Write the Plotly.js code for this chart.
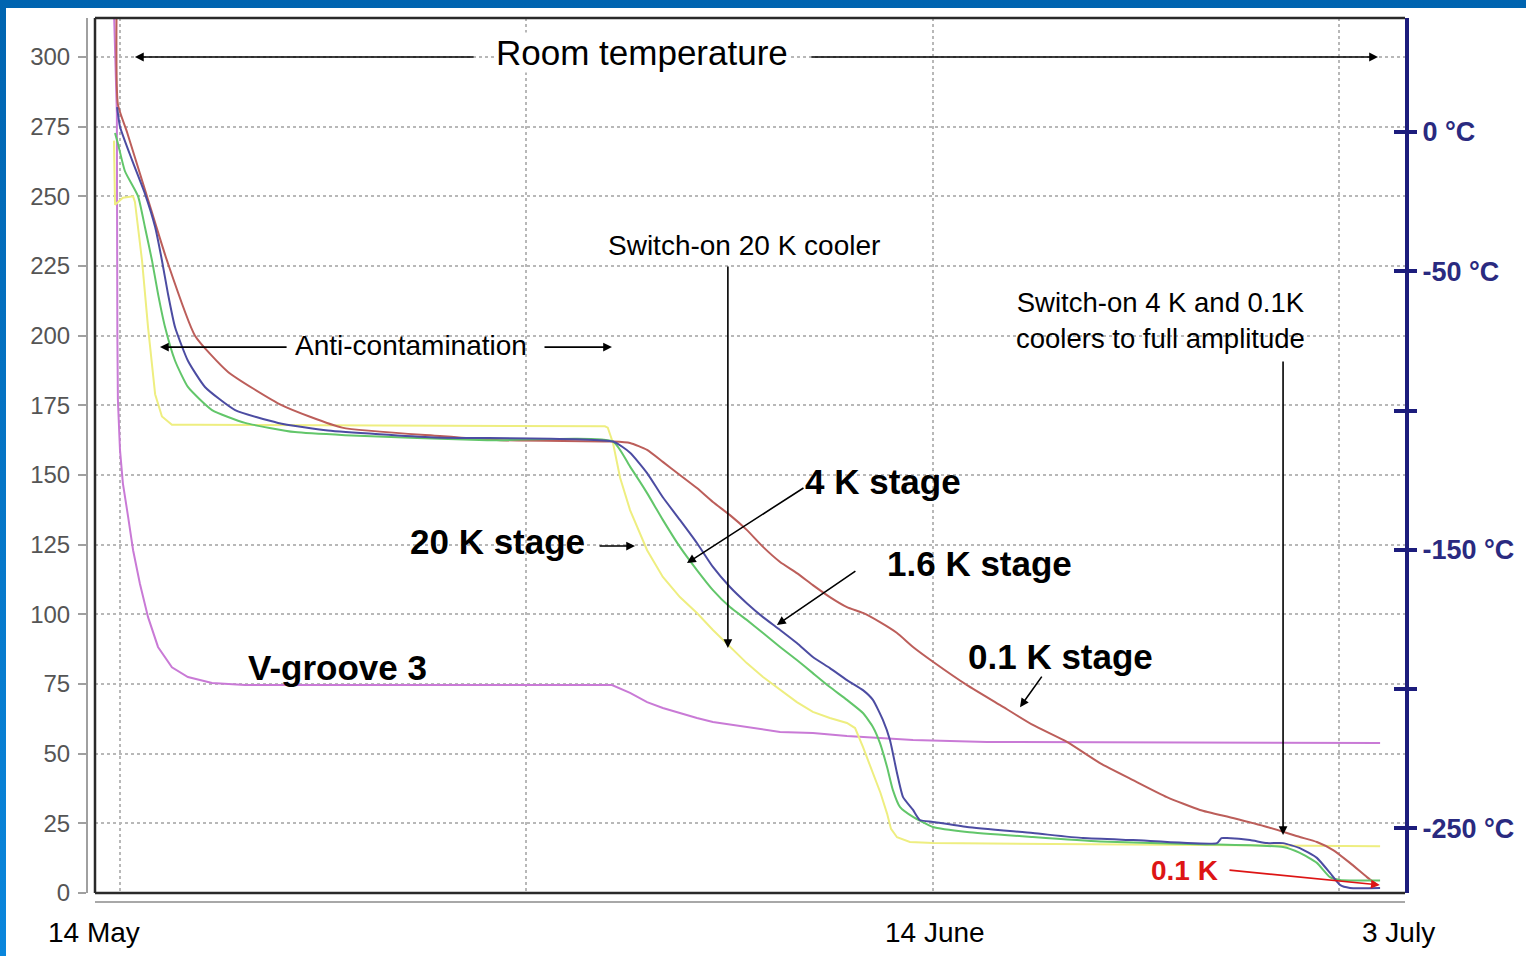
<!DOCTYPE html>
<html>
<head>
<meta charset="utf-8">
<script src="https://cdn.plot.ly/plotly-3.0.1.min.js"></script>
<style>
  html, body { margin: 0; padding: 0; width: 1526px; height: 956px; overflow: hidden;
    background: linear-gradient(#0064b0, #0a86dc); }
  #chart { position: absolute; left: 6px; top: 8px; width: 1520px; height: 948px; background: #fff; }
</style>
</head>
<body>
<div id="chart"></div>
<script>
// x values: days since 14 May; y values: temperature in K
const redDays   = [-0.12, -0.08, 0.27, 1.03, 1.79, 2.86, 4.12, 6.18, 8.47, 12.2, 14.5, 18.8, 19.45, 20.1, 20.7, 21.35, 22.0, 22.61, 23.26, 23.9, 24.52, 25.17, 25.81, 26.42, 27.07, 27.72, 28.33, 28.98, 29.63, 30.24, 31.0, 32.3, 33.55, 34.81, 36.11, 37.37, 38.63, 39.92, 41.18, 42.44, 43.74, 44.99, 45.64, 46.26, 46.9, 47.55, 47.93];
const redTemp   = [330, 283, 273, 250, 227, 200, 187, 175, 167, 164, 162.5, 162, 161.5, 159, 154.7, 150, 145.3, 140.3, 135.6, 130.3, 124.2, 118.8, 114.8, 110.5, 106.2, 102.6, 100.5, 97.2, 93.3, 88.3, 83, 74.6, 67.5, 60.3, 54.2, 46.6, 40.5, 34.4, 29.8, 26.9, 23.7, 20.1, 18.3, 15.4, 10.8, 5.7, 2.9];

const blueDays  = [-0.11, 0, 0.46, 0.95, 1.34, 1.6, 1.83, 2.1, 2.59, 3.24, 4.39, 6.03, 7.93, 12, 18.8, 19.45, 20.1, 20.7, 21.35, 22.0, 22.61, 23.26, 23.9, 24.52, 25.17, 25.81, 26.42, 27.07, 27.72, 28.33, 28.71, 29.09, 29.36, 29.63, 29.86, 30.24, 30.5, 31.0, 32.3, 34.81, 36.72, 38.63, 41.83, 42.0, 42.21, 43.09, 43.74, 44.35, 44.99, 45.64, 46.14, 46.52, 46.9, 48.05];
const blueTemp  = [282, 275, 263, 251, 239, 227, 215, 203, 191, 181.6, 173.3, 168.7, 166, 163.5, 162, 158, 150.7, 142, 133.9, 125.6, 117, 109.8, 104, 99, 94.4, 89.7, 84.7, 80.7, 76.4, 72.8, 69.3, 62.1, 54.9, 43, 34.4, 29.8, 26.2, 25.5, 23.7, 21.5, 19.7, 19, 17.9, 19.7, 19.7, 19, 17.9, 17.9, 16.1, 12.6, 7.2, 2.9, 1.8, 1.8];

const greenDays = [-0.19, -0.08, 0.19, 0.69, 0.95, 1.22, 1.45, 1.72, 2.1, 2.59, 3.51, 4.77, 6.67, 8.58, 14, 18.8, 19.45, 20.1, 20.7, 21.35, 22.0, 22.61, 23.26, 23.9, 24.52, 25.17, 25.81, 26.42, 27.07, 27.72, 28.33, 28.71, 28.98, 29.25, 29.47, 29.74, 30.24, 31.0, 32.3, 34.81, 37.37, 41.18, 44.35, 44.99, 45.64, 46.14, 46.52, 48.05];
const greenTemp = [272.7, 269, 259, 250, 239, 227, 215, 203, 191, 181.6, 173.3, 168.7, 165.4, 164.3, 162.5, 162, 153, 143.5, 133.9, 124.2, 115.9, 108.7, 102.6, 98, 93.3, 88.3, 83.6, 78.9, 73.9, 69.3, 64.6, 59.6, 53.8, 45.2, 37, 30.9, 27.3, 23.7, 21.9, 20.1, 18.5, 17.5, 16.5, 14.4, 10.8, 5.7, 4.7, 4.5];

const yellowDays = [-0.23, -0.19, 0.11, 0.5, 0.57, 0.84, 1.07, 1.34, 1.6, 1.98, 2.86, 18.49, 18.6, 18.8, 19.07, 19.45, 20.1, 20.7, 21.35, 22.0, 22.61, 23.26, 23.9, 24.52, 25.17, 25.81, 26.42, 27.07, 27.72, 28.03, 28.33, 28.71, 29.0, 29.25, 29.4, 29.63, 30.12, 31.0, 40, 48.05];
const yellowTemp = [270, 247, 249.5, 250, 248, 227, 203, 179, 171, 168, 168, 167.5, 167, 161.5, 149, 137.4, 123, 113.4, 106.2, 100.5, 94.4, 88.3, 82.5, 77.5, 72.8, 68.5, 65, 62.8, 61, 59.2, 52.4, 43, 35.9, 28.5, 23, 20, 18.3, 17.9, 17.3, 16.8];

const vgrooveDays = [-0.27, -0.12, -0.1, -0.08, 0, 0.11, 0.31, 0.5, 0.76, 1.07, 1.45, 1.98, 2.59, 3.51, 4.77, 18.76, 19.45, 20.1, 20.7, 21.35, 22.0, 22.61, 23.9, 25.17, 26.42, 27.72, 28.98, 30.24, 33.06, 48.05];
const vgrooveTemp = [330, 280, 200, 177, 159, 147, 135, 123, 111, 99, 88.3, 81, 77.5, 75.4, 74.6, 74.6, 71.8, 68.5, 66.4, 64.6, 62.8, 61.4, 59.6, 57.8, 57.4, 56.3, 55.6, 54.9, 54.2, 53.8];

const leftTicks = [0, 25, 50, 75, 100, 125, 150, 175, 200, 225, 250, 275, 300];
const xGridDays = [0, 15.5, 31, 46.5];
const celsiusTicks = [0, -50, -100, -150, -200, -250];
const celsiusLabels = ['0 °C', '-50 °C', '', '-150 °C', '', '-250 °C'];
const dateLabels = ['14 May', '14 June', '3 July'];

const FONT = 'Liberation Sans, Arial, sans-serif';
const NAVY = '#1c1c7c';
const yTop = 314;

function line(x, y, color, smooth) {
  const ln = { color: color, width: 2 };
  if (smooth) { ln.shape = 'spline'; ln.smoothing = 0.5; }
  return { x: x, y: y, type: 'scatter', mode: 'lines', hoverinfo: 'skip', showlegend: false, line: ln };
}

const data = [
  line(vgrooveDays, vgrooveTemp, '#c97ad6', false),
  line(yellowDays, yellowTemp, '#eeee80', false),
  line(redDays, redTemp, '#bc5e5a', true),
  line(greenDays, greenTemp, '#62c66a', true),
  line(blueDays, blueTemp, '#4c4ca2', true),
  { x: [], y: [], type: 'scatter', yaxis: 'y2', hoverinfo: 'skip', showlegend: false },
  { x: [], y: [], type: 'scatter', yaxis: 'y3', hoverinfo: 'skip', showlegend: false }
];

function arrow(x, y, ax, ay, color) {
  return { x: x, y: y, ax: ax, ay: ay, xref: 'x', yref: 'y', axref: 'x', ayref: 'y',
           text: '', showarrow: true, arrowhead: 2, arrowsize: 1.1, arrowwidth: 1.6,
           arrowcolor: color || '#000', standoff: 0, startstandoff: 0 };
}
function label(x, y, text, size, bold, color) {
  return { x: x, y: y, xref: 'x', yref: 'y', text: bold ? '<b>' + text + '</b>' : text,
           showarrow: false, xanchor: 'center', yanchor: 'middle',
           font: { family: FONT, size: size, color: color || '#000' } };
}

const annotations = [
  Object.assign(label(19.9, 301.5, 'Room temperature', 35, false), { bgcolor: '#fff', borderpad: 0 }),
  arrow(0.57, 300, 13.54, 300),
  arrow(47.97, 300, 26.31, 300),
  label(23.79, 232.2, 'Switch-on 20 K cooler', 28, false),
  arrow(23.18, 87.9, 23.18, 225.4),
  label(11.1, 196.6, 'Anti-contamination', 28, false),
  arrow(1.525, 195.9, 6.41, 195.9),
  arrow(18.76, 195.9, 16.13, 195.9),
  label(14.41, 126.3, '20 K stage', 35, true),
  arrow(19.64, 124.5, 18.23, 124.5),
  label(29.09, 147.5, '4 K stage', 35, true),
  arrow(21.62, 118.4, 26.12, 145.7),
  label(32.79, 118.1, '1.6 K stage', 35, true),
  arrow(25.05, 96.2, 28.1, 115.9),
  label(35.88, 84.7, '0.1 K stage', 35, true),
  arrow(34.32, 66.7, 35.19, 78.2),
  label(8.31, 81.1, 'V-groove 3', 35, true),
  label(39.69, 205.6, 'Switch-on 4 K and 0.1K<br>coolers to full amplitude', 27.5, false),
  arrow(44.35, 20.8, 44.35, 191.3),
  label(40.61, 8.25, '0.1 K', 28, true, '#dd1515'),
  arrow(48.04, 2.9, 42.25, 8.25, '#dd1515')
];
const datePos = [0.0053, 0.6434, 0.9947];
dateLabels.forEach(function (t, i) {
  annotations.push({ x: datePos[i], y: -0.035, xref: 'paper', yref: 'paper', text: t,
    showarrow: false, xanchor: 'center', yanchor: 'middle',
    font: { family: FONT, size: 28, color: '#000' } });
});

const frameLine = { color: '#2a2a2a', width: 2.5 };
const shapes = [
  { type: 'line', xref: 'x domain', yref: 'y domain', x0: 0, x1: 1, y0: 1, y1: 1, line: frameLine },
  { type: 'line', xref: 'x domain', yref: 'y domain', x0: 0, x1: 0, y0: 0, y1: 1, line: frameLine },
  { type: 'line', xref: 'x domain', yref: 'y domain', x0: 0, x1: 1, y0: 0, y1: 0, line: frameLine }
];

const yDomain = [9 / 884, 1];
const layout = {
  width: 1520, height: 948,
  margin: { l: 81, r: 121, t: 10, b: 54 },
  paper_bgcolor: '#fff', plot_bgcolor: '#fff',
  font: { family: FONT },
  showlegend: false,
  xaxis: {
    domain: [8 / 1318, 1], anchor: 'free', position: 0,
    range: [-0.953, 49.0], tickvals: xGridDays, showticklabels: false, ticks: '',
    showgrid: true, gridcolor: '#b8b8b8', griddash: 'dot', gridwidth: 2,
    showline: true, linecolor: '#a8a8a8', linewidth: 2, zeroline: false, fixedrange: true
  },
  yaxis: {
    domain: yDomain, anchor: 'free', position: 0,
    range: [0, yTop], tickvals: leftTicks, ticks: 'outside', ticklen: 8, tickwidth: 2, tickcolor: '#a0a0a0',
    tickfont: { family: FONT, size: 24, color: '#555' }, ticklabelstandoff: 3,
    showgrid: true, gridcolor: '#b8b8b8', griddash: 'dot', gridwidth: 2,
    showline: true, linecolor: '#a0a0a0', linewidth: 2, zeroline: false, fixedrange: true
  },
  yaxis2: {
    domain: yDomain, overlaying: 'y', side: 'right', anchor: 'x',
    range: [-273.15, yTop - 273.15], tickvals: celsiusTicks, ticktext: celsiusLabels,
    ticks: 'outside', ticklen: 8, tickwidth: 4, tickcolor: NAVY,
    tickfont: { family: FONT, size: 27, color: '#2a2a80', weight: 'bold' },
    showgrid: false, zeroline: false, showline: true, linecolor: NAVY, linewidth: 4, fixedrange: true
  },
  yaxis3: {
    domain: yDomain, overlaying: 'y', side: 'right', anchor: 'x',
    range: [-273.15, yTop - 273.15], tickvals: celsiusTicks,
    ticks: 'inside', ticklen: 11, tickwidth: 4, tickcolor: NAVY, showticklabels: false,
    showgrid: false, zeroline: false, showline: false, fixedrange: true
  },
  annotations: annotations,
  shapes: shapes
};

Plotly.newPlot('chart', data, layout, { displayModeBar: false, staticPlot: true });
</script>
</body>
</html>
